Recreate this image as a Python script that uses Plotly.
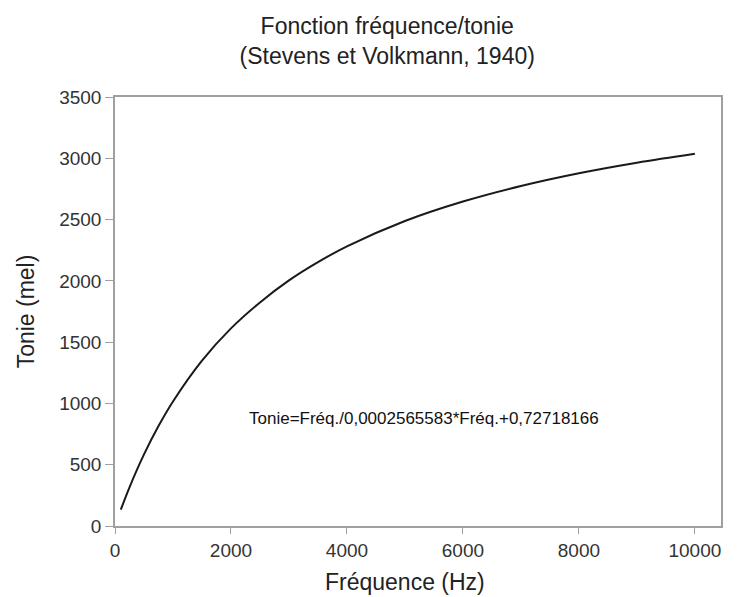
import plotly.graph_objects as go

# ============================================================================
# DATA
# ============================================================================

frequence_hz = [100, 250, 500, 750, 1000, 1500, 2000, 2500, 3000, 3500,
                4000, 5000, 6000, 7000, 8000, 9000, 10000]
tonie_mel = [133, 316, 584, 815, 1016, 1349, 1612, 1824, 2004, 2153,
             2281, 2488, 2647, 2774, 2878, 2964, 3037]

x_ticks = [0, 2000, 4000, 6000, 8000, 10000]
x_tick_labels = ["0", "2000", "4000", "6000", "8000", "10000"]
y_ticks = [0, 500, 1000, 1500, 2000, 2500, 3000, 3500]

FONT = "Liberation Sans, Arial"
AXIS_GRAY = "#a0a0a0"
TEXT_GRAY = "#333333"

# ============================================================================
# FIGURE
# ============================================================================

fig = go.Figure()

fig.add_trace(go.Scatter(
    x=frequence_hz,
    y=tonie_mel,
    mode="lines",
    line=dict(color="#1a1a1a", width=2, shape="spline"),
    showlegend=False,
    hovertemplate="Fréquence: %{x} Hz<br>Tonie: %{y} mel<extra></extra>"
))

fig.add_annotation(
    text="Tonie=Fréq./0,0002565583*Fréq.+0,72718166",
    x=5330, y=880, xref="x", yref="y",
    showarrow=False,
    font=dict(family=FONT, size=17, color="#111111")
)

# x title placed by hand: it sits slightly left of the plot centre
fig.add_annotation(
    text="Fréquence (Hz)",
    x=0.479, xref="paper", xanchor="center",
    y=-0.095, yref="paper", yanchor="top",
    showarrow=False,
    font=dict(family=FONT, size=23, color="#222222")
)

fig.update_layout(
    width=745, height=597,
    paper_bgcolor="white",
    plot_bgcolor="white",
    font=dict(family=FONT, size=19, color=TEXT_GRAY),
    title=dict(
        text="Fonction fréquence/tonie<br>(Stevens et Volkmann, 1940)",
        x=0.509, xanchor="center", yref="container", y=0.957, yanchor="top",
        font=dict(family=FONT, size=23, color="#222222")
    ),
    margin=dict(l=107, r=32, t=89, b=79),
)

fig.update_xaxes(
    range=[0, 10450],
    tickvals=x_ticks, ticktext=x_tick_labels,
    ticks="outside", ticklen=6, tickcolor=AXIS_GRAY,
    showline=True, linecolor=AXIS_GRAY, linewidth=1.5, mirror=True,
    showgrid=False, zeroline=False, automargin=False,
    tickfont=dict(size=19, color=TEXT_GRAY)
)

fig.update_yaxes(
    range=[0, 3500],
    tickvals=y_ticks,
    ticks="outside", ticklen=8, tickcolor=AXIS_GRAY,
    showline=True, linecolor=AXIS_GRAY, linewidth=1.5, mirror=True,
    showgrid=False, zeroline=False, automargin=False,
    tickfont=dict(size=19, color=TEXT_GRAY),
    title=dict(text="Tonie (mel)", font=dict(size=23, color="#222222"), standoff=18)
)

fig.write_html("out.html")
